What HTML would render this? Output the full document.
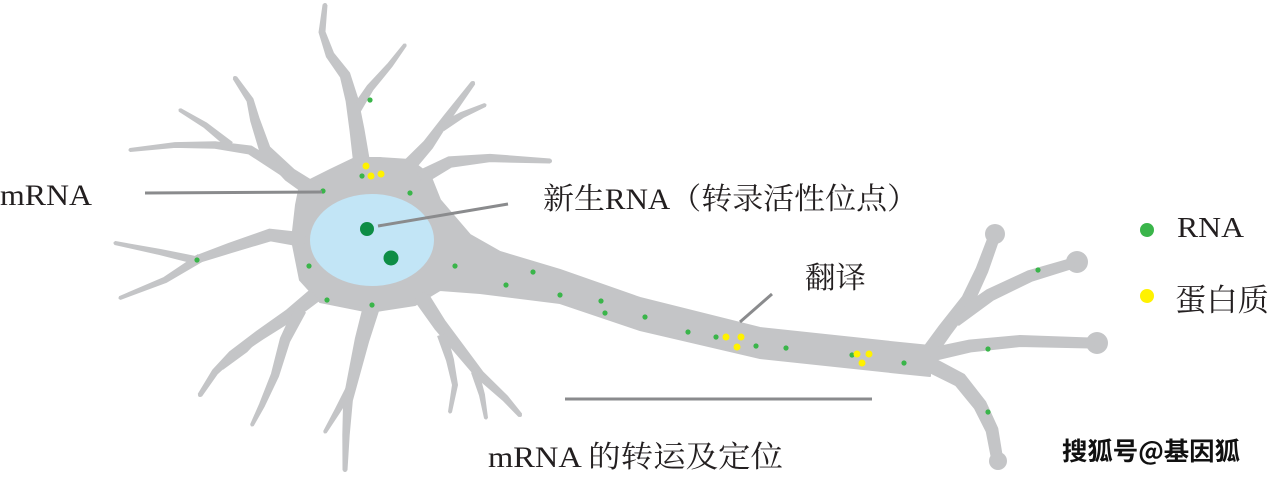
<!DOCTYPE html>
<html><head><meta charset="utf-8"><style>
html,body{margin:0;padding:0;background:#fff;}
body{width:1268px;height:477px;overflow:hidden;position:relative;}
svg{position:absolute;left:0;top:0;}
.t{font-family:"Liberation Serif","Noto Serif CJK SC",serif;fill:#231f20;}
</style></head><body>
<svg id="s" width="1268" height="477" viewBox="0 0 1268 477" xmlns="http://www.w3.org/2000/svg">
<g id="g" fill="#c4c5c7" stroke="#c4c5c7" stroke-linejoin="round">
<polygon stroke-width="2" points="300,185 330,170 355,158 380,158 410,160 430,175 440,200 470,235 500,252 560,270 640,298 760,328 900,343 930,346 930,376 900,373 760,358 640,330 560,303 480,293 440,290 415,305 370,312 320,302 300,280 292,240 296,205"/>
<circle cx="995" cy="234" r="10" stroke="none"/>
<circle cx="1077" cy="262" r="11" stroke="none"/>
<circle cx="1097" cy="343" r="11" stroke="none"/>
<circle cx="998" cy="461" r="9" stroke="none"/>
</g>
<ellipse cx="372" cy="240" rx="62" ry="46" fill="#c2e5f6"/>
<circle cx="367" cy="229" r="7" fill="#0d8d45"/>
<circle cx="391" cy="258" r="7.5" fill="#0d8d45"/>
<g fill="#3ab54a" id="dots"></g>
<g fill="#fff200">
<circle cx="366" cy="166" r="3.5"/><circle cx="371" cy="176" r="3.5"/><circle cx="381" cy="174" r="3.5"/>
<circle cx="726" cy="337" r="3.5"/><circle cx="741" cy="337" r="3.5"/><circle cx="737" cy="347" r="3.5"/>
<circle cx="857" cy="354" r="3.5"/><circle cx="869" cy="354" r="3.5"/><circle cx="862" cy="363" r="3.5"/>
</g>
<g stroke="#8a8b8d" stroke-width="3">
<line x1="145" y1="193" x2="322" y2="192"/>
<line x1="378" y1="226" x2="508" y2="204"/>
<line x1="740" y1="322" x2="772" y2="294"/>
<line x1="565" y1="399" x2="872" y2="399"/>
</g>
<text class="t" x="0" y="205" font-size="30" textLength="92" lengthAdjust="spacingAndGlyphs">mRNA</text>
<text class="t" x="543" y="209" font-size="30" textLength="375" lengthAdjust="spacingAndGlyphs">新生RNA（转录活性位点）</text>
<text class="t" x="805" y="288" font-size="30" textLength="61" lengthAdjust="spacingAndGlyphs">翻译</text>
<text class="t" x="488" y="467" font-size="30" textLength="295" lengthAdjust="spacingAndGlyphs">mRNA 的转运及定位</text>
<circle cx="1147" cy="230" r="7" fill="#3ab54a"/>
<circle cx="1147" cy="296" r="7" fill="#fff200"/>
<text class="t" x="1177" y="237" font-size="29" textLength="67" lengthAdjust="spacingAndGlyphs">RNA</text>
<text class="t" x="1175" y="311" font-size="31" textLength="94" lengthAdjust="spacingAndGlyphs">蛋白质</text>
<text x="1062" y="460" font-size="25" font-weight="bold" font-family="'Noto Sans CJK SC',sans-serif" fill="#111" stroke="#fff" stroke-width="0.8" paint-order="stroke" textLength="178" lengthAdjust="spacingAndGlyphs">搜狐号@基因狐</text>
</svg>
<script>
var NS="http://www.w3.org/2000/svg",g=document.getElementById("g");
function br(pts,w0,w1){
  var n=pts.length,L=[],R=[];
  for(var i=0;i<n;i++){
    var w=(w0+(w1-w0)*i/(n-1))/2;
    var a=pts[Math.max(0,i-1)],b=pts[Math.min(n-1,i+1)];
    var dx=b[0]-a[0],dy=b[1]-a[1],d=Math.sqrt(dx*dx+dy*dy)||1;
    var nx=-dy/d,ny=dx/d;
    L.push((pts[i][0]+nx*w)+","+(pts[i][1]+ny*w));
    R.unshift((pts[i][0]-nx*w)+","+(pts[i][1]-ny*w));
  }
  var p=document.createElementNS(NS,"polygon");
  p.setAttribute("points",L.concat(R).join(" "));p.setAttribute("stroke-width","1");
  g.appendChild(p);
  var c=document.createElementNS(NS,"circle");c.setAttribute("cx",pts[n-1][0]);c.setAttribute("cy",pts[n-1][1]);c.setAttribute("r",w1/2);c.setAttribute("stroke","none");g.appendChild(c);
}
var D=[
[[[362,165],[357,130],[352,100],[345,75],[330,55],[322,32],[325,5]],16,4],
[[[356,110],[370,88],[390,65],[405,45]],9,3],
[[[405,170],[428,145],[447,118],[473,83]],14,4],
[[[442,127],[462,115],[485,105]],8,3],
[[[420,178],[450,162],[490,158],[550,161]],14,4],
[[[320,195],[290,175],[265,150],[255,120],[250,100],[235,78]],16,4],
[[[290,175],[250,150],[215,145],[175,145],[130,150]],10,3],
[[[230,145],[205,125],[180,110]],7,3],
[[[305,240],[270,235],[230,248],[195,260],[160,252],[115,243]],14,3],
[[[200,258],[165,280],[120,298]],8,3],
[[[315,295],[290,315],[260,335],[232,355],[215,372],[200,395]],14,4],
[[[300,310],[285,340],[275,375],[262,405],[252,425]],12,3],
[[[258,335],[245,350],[222,368]],7,3],
[[[372,305],[362,340],[355,370],[348,400],[346,435],[345,470]],16,4],
[[[352,385],[338,410],[325,432]],8,3],
[[[420,295],[440,325],[460,350],[480,375],[505,398],[520,415]],15,4],
[[[442,335],[450,360],[455,385],[450,412]],9,3],
[[[475,372],[482,395],[486,418]],7,3],
[[[922,362],[945,330],[968,300],[982,270],[993,240]],15,11],
[[[955,320],[990,295],[1030,276],[1070,264]],13,10],
[[[925,356],[970,346],[1020,341],[1090,343]],13,10],
[[[925,362],[960,380],[980,405],[992,430],[997,458]],15,11]
];
D.forEach(function(d){br(d[0],d[1],d[2]);});
var dots=[[370,100],[362,176],[410,193],[323,191],[309,266],[197,260],[327,300],[372,305],[455,266],[506,285],[533,272],[560,295],[601,301],[605,313],[645,317],[688,332],[716,337],[756,346],[786,348],[852,355],[904,363],[1038,270],[988,349],[988,412]];
var dg=document.getElementById("dots");
dots.forEach(function(p){var c=document.createElementNS(NS,"circle");c.setAttribute("cx",p[0]);c.setAttribute("cy",p[1]);c.setAttribute("r",2.6);dg.appendChild(c);});
</script>
</body></html>
